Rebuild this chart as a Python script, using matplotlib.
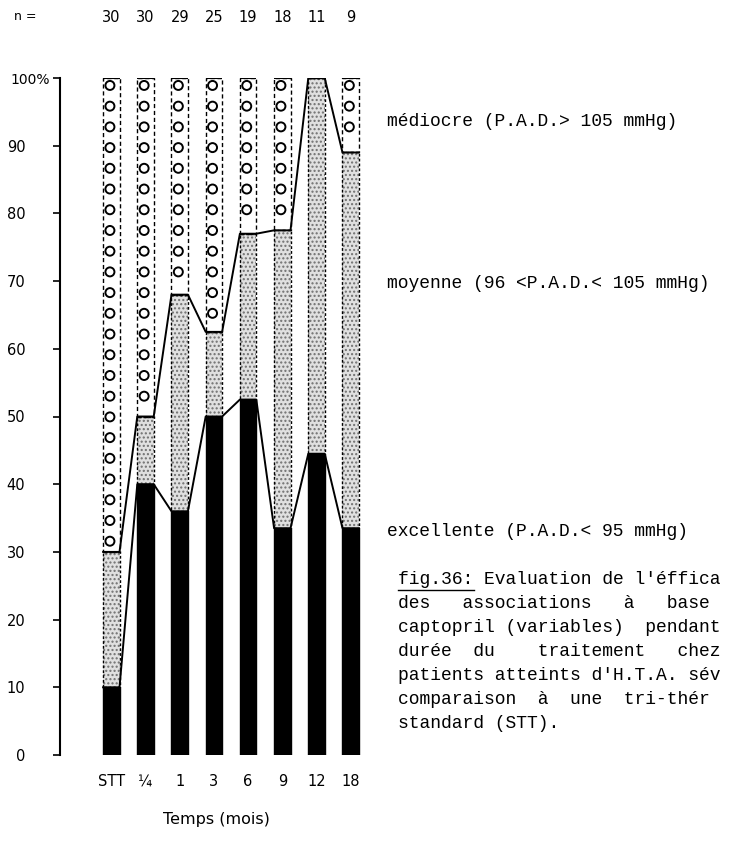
import numpy as np
import matplotlib
matplotlib.use("Agg")
import matplotlib.pyplot as plt
from matplotlib.lines import Line2D
from matplotlib.transforms import blended_transform_factory

# data
categories = ["STT", "¼", "1", "3", "6", "9", "12", "18"]
n_patients = [30, 30, 29, 25, 19, 18, 11, 9]
excellente = np.array([10, 40, 36, 50, 52.5, 33.5, 44.5, 33.5])   # % P.A.D. < 95
cumul_moyenne = np.array([30, 50, 68, 62.5, 77, 77.5, 100, 89])  # excellente + moyenne
moyenne = cumul_moyenne - excellente
mediocre = 100 - cumul_moyenne

y_ticks = [0, 10, 20, 30, 40, 50, 60, 70, 80, 90, 100]
y_labels = ["0", "10", "20", "30", "40", "50", "60", "70", "80", "90", "100%"]

mono = "Liberation Mono"

fig = plt.figure(figsize=(7.3, 8.43), dpi=100)
ax = fig.add_axes([60 / 730, 1 - 755 / 843, (372 - 60) / 730, (755 - 78) / 843])

x = np.arange(len(categories))
w = 0.48

# excellente: solid black
ax.bar(x, excellente, width=w, color="black", edgecolor="black", linewidth=1)
# moyenne: grey stipple
ax.bar(x, moyenne, width=w, bottom=excellente, color="#e0e0e0",
       edgecolor="#707070", linewidth=0, hatch="....")
ax.bar(x, moyenne, width=w, bottom=excellente, fill=False,
       edgecolor="black", linewidth=1.0, linestyle=(0, (2, 1.5)))
# mediocre: white with a column of circles, dashed sides
ax.bar(x, mediocre, width=w, bottom=cumul_moyenne, fill=False,
       edgecolor="black", linewidth=1.0, linestyle=(0, (3, 2)))
ax.hlines(np.full(len(x), 100), x - w / 2, x + w / 2, color="black", linewidth=1.5)
for xi, lo in zip(x, cumul_moyenne):
    yc = np.arange(98.9, lo + 1.2, -3.06)
    ax.scatter(np.full(len(yc), xi - 0.04), yc, s=42, marker="o",
               facecolors="none", edgecolors="black", linewidths=1.4, zorder=3)

# connecting lines across the bar tops
def step_line(vals):
    xs, ys = [], []
    for xi, v in zip(x, vals):
        xs += [xi - w / 2, xi + w / 2]
        ys += [v, v]
    ax.plot(xs, ys, color="black", linewidth=1.4, zorder=4)

step_line(excellente)
step_line(cumul_moyenne)

ax.set_xlim(-1.5, -1.5 + 312 / 34.2)
ax.set_ylim(0, 100)
for s in ["top", "right", "bottom"]:
    ax.spines[s].set_visible(False)
ax.spines["left"].set_linewidth(1.5)

ax.set_yticks(y_ticks)
ax.set_yticklabels(y_labels, fontsize=10.5)
ax.tick_params(axis="y", direction="out", length=5, width=1.2, pad=20)
top_tick = ax.yaxis.get_major_ticks()[-1]
top_tick.tick1line.set_markersize(10)
top_tick.set_pad(2)
top_tick.label1.set_fontsize(10)

ax.set_xticks(x)
ax.set_xticklabels(categories, fontsize=10.5)
ax.tick_params(axis="x", length=0, pad=14)
ax.set_xlabel("Temps (mois)", fontsize=11.5, labelpad=16)

# n row
trans = blended_transform_factory(ax.transData, fig.transFigure)
fig.text(14 / 730, 1 - 17 / 843, "n =", fontsize=9, va="center")
for xi, nv in zip(x, n_patients):
    ax.text(xi, 1 - 17 / 843, str(nv), transform=trans, ha="center",
            va="center", fontsize=10.5)

# legend-like labels on the right
fig.text(387 / 730, 1 - 121 / 843, "médiocre (P.A.D.> 105 mmHg)",
         family=mono, fontsize=13, va="center")
fig.text(387 / 730, 1 - 284 / 843, "moyenne (96 <P.A.D.< 105 mmHg)",
         family=mono, fontsize=13, va="center")
fig.text(387 / 730, 1 - 531 / 843, "excellente (P.A.D.< 95 mmHg)",
         family=mono, fontsize=13, va="center")

# caption, as far as it is visible in the scan
caption = [
    "fig.36: Evaluation de l'éffica",
    "des   associations   à   base",
    "captopril (variables)  pendant",
    "durée  du    traitement   chez",
    "patients atteints d'H.T.A. sév",
    "comparaison  à  une  tri-thér",
    "standard (STT).",
]
cap_y = [579, 603, 627, 651, 675, 699, 723]
for line, yy in zip(caption, cap_y):
    fig.text(398 / 730, 1 - yy / 843, line, family=mono, fontsize=13,
             va="center")
fig.add_artist(Line2D([398 / 730, 474 / 730], [1 - 590 / 843, 1 - 590 / 843],
                      transform=fig.transFigure, color="black", linewidth=1))

fig.savefig("out.png", dpi=100)
